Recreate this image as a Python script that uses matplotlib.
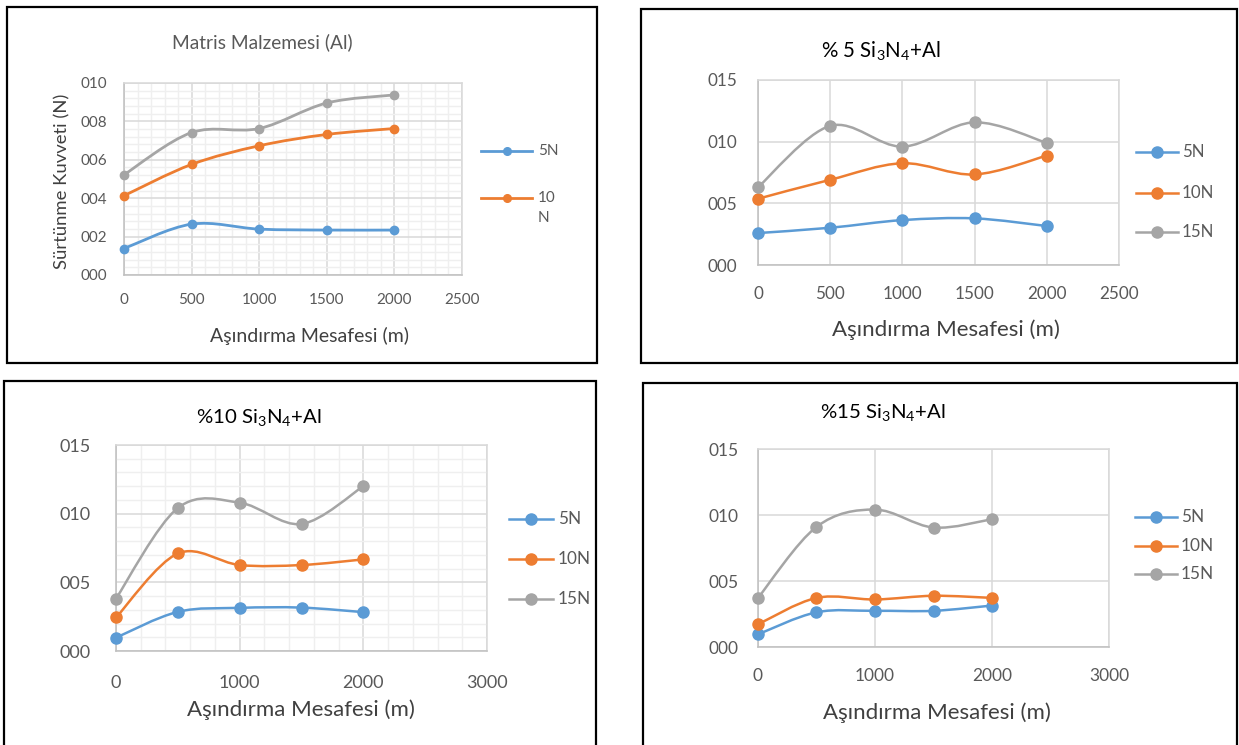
import matplotlib
matplotlib.use("Agg")
import matplotlib.pyplot as plt
from matplotlib.path import Path
from matplotlib.patches import PathPatch, Rectangle
from matplotlib.lines import Line2D
from matplotlib.ticker import MultipleLocator
import numpy as np

plt.rcParams['font.family'] = ['Lato', 'DejaVu Sans']
plt.rcParams['mathtext.fontset'] = 'custom'
plt.rcParams['mathtext.rm'] = 'Lato'
plt.rcParams['mathtext.default'] = 'regular'

# ---------------- data ----------------
distance = [0, 500, 1000, 1500, 2000]
series_names = ["5N", "10N", "15N"]

p1_5N = [1.38, 2.65, 2.39, 2.34, 2.34]
p1_10N = [4.13, 5.76, 6.73, 7.32, 7.63]
p1_15N = [5.22, 7.42, 7.63, 8.96, 9.38]

p2_5N = [2.59, 3.02, 3.64, 3.78, 3.16]
p2_10N = [5.37, 6.91, 8.25, 7.34, 8.87]
p2_15N = [6.31, 11.28, 9.60, 11.57, 9.90]

p3_5N = [0.97, 2.85, 3.14, 3.16, 2.83]
p3_10N = [2.44, 7.10, 6.26, 6.26, 6.67]
p3_15N = [3.82, 10.41, 10.80, 9.25, 12.00]

p4_5N = [0.96, 2.63, 2.74, 2.74, 3.14]
p4_10N = [1.72, 3.72, 3.60, 3.88, 3.72]
p4_15N = [3.72, 9.10, 10.41, 9.05, 9.68]

titles = ["Matris Malzemesi (Al)", "% 5 Si$_3$N$_4$+Al",
          "%10 Si$_3$N$_4$+Al", "%15 Si$_3$N$_4$+Al"]
xlabel = "Aşındırma Mesafesi (m)"
ylabel = "Sürtünme Kuvveti (N)"

COLORS = ["#5B9BD5", "#ED7D31", "#A5A5A5"]
TXT = "#595959"
W, H = 1239, 745

fig = plt.figure(figsize=(W / 100, H / 100), dpi=100)
fig.patch.set_facecolor("white")


def fx(x):
    return x / W


def fy(y):
    return 1 - y / H


def frame(x0, y0, x1, y1):
    fig.add_artist(Rectangle((fx(x0), fy(y1)), fx(x1) - fx(x0), fy(y0) - fy(y1),
                             transform=fig.transFigure, fill=False,
                             edgecolor="black", linewidth=1.6, zorder=0))


def smooth_path(xs, ys):
    pts = np.column_stack([xs, ys]).astype(float)
    n = len(pts)
    verts = [pts[0]]
    codes = [Path.MOVETO]
    for i in range(n - 1):
        p0 = pts[i - 1] if i > 0 else pts[i]
        p1 = pts[i]
        p2 = pts[i + 1]
        p3 = pts[i + 2] if i + 2 < n else pts[i + 1]
        c1 = p1 + (p2 - p0) / 6.0
        c2 = p2 - (p3 - p1) / 6.0
        verts += [c1, c2, p2]
        codes += [Path.CURVE4] * 3
    return Path(verts, codes)


def make_axes(x0, y0, x1, y1, xmax, xmajor, xminor, ymax, ymajor, yminor,
              xpad, ypad, tickfs):
    ax = fig.add_axes([fx(x0), fy(y1), fx(x1) - fx(x0), fy(y0) - fy(y1)])
    ax.set_xlim(0, xmax)
    ax.set_ylim(0, ymax)
    ax.xaxis.set_major_locator(MultipleLocator(xmajor))
    ax.yaxis.set_major_locator(MultipleLocator(ymajor))
    if xminor:
        ax.xaxis.set_minor_locator(MultipleLocator(xminor))
        ax.yaxis.set_minor_locator(MultipleLocator(yminor))
        ax.grid(True, which="minor", color="#EFEFEF", linewidth=1.0)
    ax.grid(True, which="major", color="#D9D9D9", linewidth=1.1)
    ax.set_axisbelow(True)
    for s in ax.spines.values():
        s.set_color("#D9D9D9")
        s.set_linewidth(1.1)
    ax.spines["left"].set_color("#BFBFBF")
    ax.spines["bottom"].set_color("#BFBFBF")
    ax.tick_params(which="both", length=0, colors=TXT, labelsize=tickfs)
    ax.tick_params(axis="x", pad=xpad)
    ax.tick_params(axis="y", pad=ypad)
    ax.yaxis.set_major_formatter(plt.FuncFormatter(lambda v, p: f"{int(round(v)):03d}"))
    ax.xaxis.set_major_formatter(plt.FuncFormatter(lambda v, p: f"{int(round(v))}"))
    return ax


def draw_series(ax, ys, color, lw, ms):
    ax.add_patch(PathPatch(smooth_path(distance, ys), facecolor="none",
                           edgecolor=color, linewidth=lw, zorder=3,
                           capstyle="round", joinstyle="round"))
    ax.plot(distance, ys, linestyle="none", marker="o", color=color,
            markersize=ms, zorder=4, clip_on=False)


def legend_entry(x0, x1, y, color, label, fs, lw, ms, tx):
    xm = (x0 + x1) / 2
    fig.add_artist(Line2D([fx(x0), fx(x1)], [fy(y), fy(y)], transform=fig.transFigure,
                          color=color, linewidth=lw))
    fig.add_artist(Line2D([fx(xm)], [fy(y)], transform=fig.transFigure,
                          color=color, marker="o", markersize=ms, linestyle="none"))
    fig.text(fx(tx), fy(y), label, color=TXT, fontsize=fs, va="center", ha="left")


# ---------------- panel 1 ----------------
frame(7, 7, 597, 363)
ax1 = make_axes(124, 83, 462, 275, 2500, 500, 100, 10, 2, 0.4, 13, 12, 11)
for ys, c in zip([p1_5N, p1_10N, p1_15N], COLORS):
    draw_series(ax1, ys, c, 2.0, 6.0)
fig.text(fx(262), fy(42), titles[0], color=TXT, fontsize=13.8, ha="center", va="center")
fig.text(fx(62), fy(181), ylabel, color="#404040", fontsize=13.3, ha="center",
         va="center", rotation=90)
fig.text(fx(309), fy(336), xlabel, color="#404040", fontsize=14, ha="center", va="center")
legend_entry(481, 532, 151, COLORS[0], "5N", 11, 2.0, 5.5, 538)
legend_entry(481, 532, 198, COLORS[1], "10", 11, 2.0, 5.5, 538)
fig.text(fx(538), fy(218), "N", color=TXT, fontsize=11, va="center", ha="left")

# ---------------- panel 2 ----------------
frame(641, 9, 1237, 363)
ax2 = make_axes(758, 80, 1119, 265, 2500, 500, None, 15, 5, None, 15, 15, 12.3)
for ys, c in zip([p2_5N, p2_10N, p2_15N], COLORS):
    draw_series(ax2, ys, c, 1.8, 8.0)
fig.text(fx(881), fy(51), titles[1], color="black", fontsize=14.8, ha="center", va="center")
fig.text(fx(946), fy(330), xlabel, color="#404040", fontsize=16, ha="center", va="center")
for lab, c, y in zip(series_names, COLORS, [152, 193, 232]):
    legend_entry(1136, 1178, y, c, lab, 12.2, 1.8, 8.0, 1182)

# ---------------- panel 3 ----------------
frame(4, 381, 596, 748)
ax3 = make_axes(116, 445, 487, 651, 3000, 1000, 200, 15, 5, 1, 17, 18, 13)
for ys, c in zip([p3_5N, p3_10N, p3_15N], COLORS):
    draw_series(ax3, ys, c, 1.8, 8.0)
fig.text(fx(259), fy(417), titles[2], color="black", fontsize=14.7, ha="center", va="center")
fig.text(fx(301), fy(710), xlabel, color="#404040", fontsize=16, ha="center", va="center")
for lab, c, y in zip(series_names, COLORS, [519, 559, 599]):
    legend_entry(509, 553, y, c, lab, 12.3, 1.8, 8.0, 558)

# ---------------- panel 4 ----------------
frame(643, 383, 1237, 748)
ax4 = make_axes(758, 449, 1109, 647, 3000, 1000, None, 15, 5, None, 15, 14, 12.5)
for ys, c in zip([p4_5N, p4_10N, p4_15N], COLORS):
    draw_series(ax4, ys, c, 1.8, 8.0)
fig.text(fx(883), fy(412), titles[3], color="black", fontsize=14.7, ha="center", va="center")
fig.text(fx(937), fy(713), xlabel, color="#404040", fontsize=16, ha="center", va="center")
for lab, c, y in zip(series_names, COLORS, [517, 546, 574]):
    legend_entry(1135, 1177, y, c, lab, 12.4, 1.8, 8.0, 1181)

fig.savefig("out.png", dpi=100, facecolor="white")
